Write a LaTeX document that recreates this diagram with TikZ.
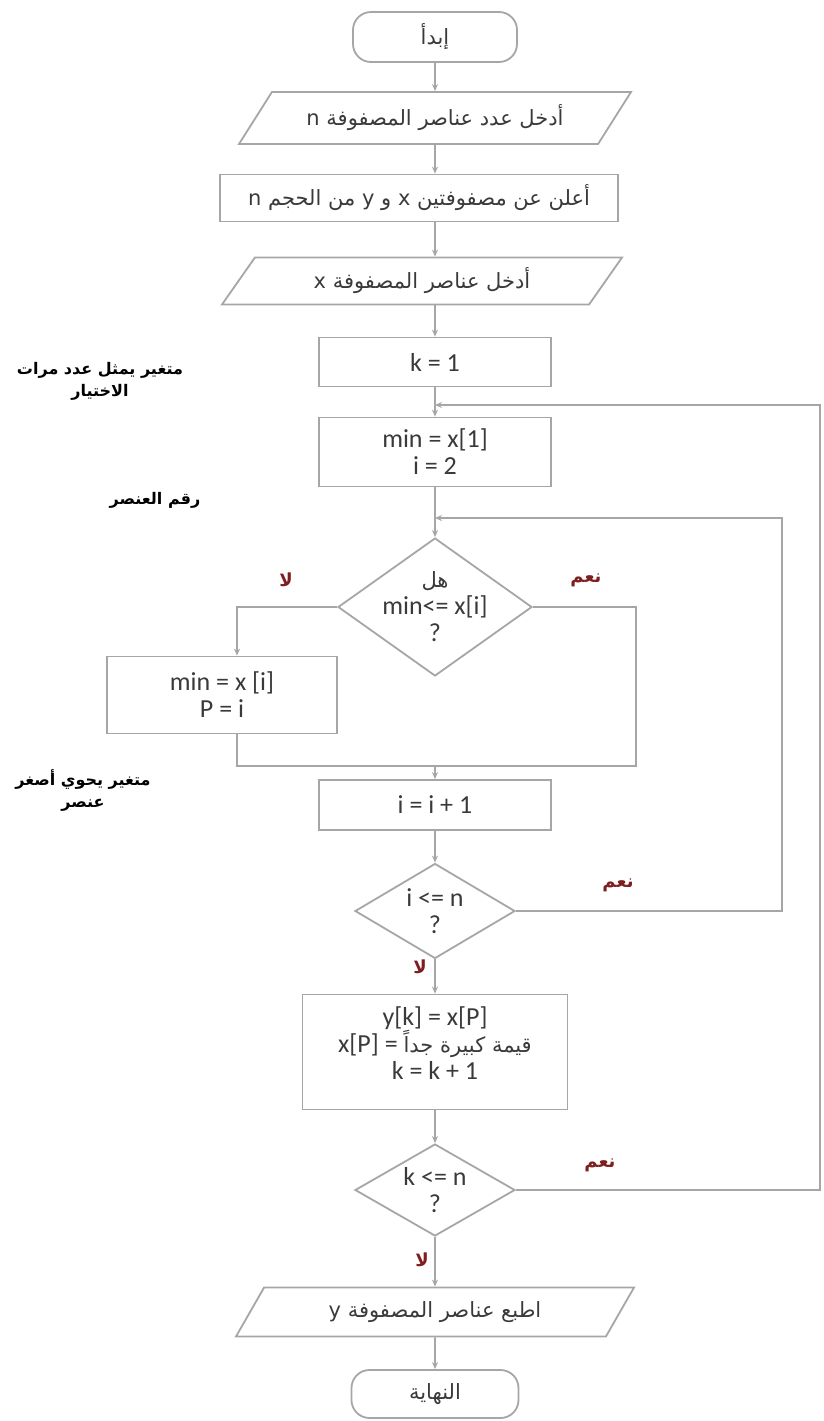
\documentclass[tikz,border=0pt]{standalone}
\usepackage{fontspec}
\setmainfont{Carlito}
\newfontfamily\arabicfont[Script=Arabic]{DejaVu Sans}
\TeXXeTstate=1
\usepackage{tikz}
\usetikzlibrary{arrows.meta,shapes.geometric}
\definecolor{linegray}{HTML}{A6A6A6}
\definecolor{textgray}{HTML}{3A3A3A}
\definecolor{yesno}{HTML}{7E1E1E}
\tikzset{
  ar/.style={-{Stealth[length=3.5pt,width=3pt]},line width=0.9pt,linegray},
  ln/.style={line width=0.9pt,linegray},
  box/.style={draw=linegray,line width=0.9pt,align=center,text=textgray,inner sep=2pt,font=\fontsize{13}{13.5}\selectfont},
  artxt/.style={font=\arabicfont\fontsize{10.5}{13.5}\selectfont},
  term/.style={box,rounded corners=9pt},
  io/.style={box,trapezium,trapezium left angle=46,trapezium right angle=134,trapezium stretches body},
  test/.style={box,diamond,inner sep=-10pt},
  yn/.style={font=\arabicfont\bfseries\fontsize{9}{10}\selectfont,text=yesno},
  note/.style={font=\arabicfont\bfseries\fontsize{8}{11}\selectfont,text=black,align=center}
}

\begin{document}
\begin{tikzpicture}[x=0.5pt,y=-0.5pt]
\useasboundingbox (0,0) rectangle (824,1421);
% main column
\node[term,artxt,minimum width=82pt,minimum height=25pt] (start) at (435,37) {\beginR إبدأ\endR};
\node[io,artxt,minimum width=196pt,minimum height=26pt] (readn) at (435,118) {\beginR أدخل عدد عناصر المصفوفة n\endR};
\node[box,artxt,minimum width=199pt,minimum height=23.5pt] (decl) at (419,198) {\beginR أعلن عن مصفوفتين x و y من الحجم n\endR};
\node[io,artxt,minimum width=200pt,minimum height=23.5pt] (readx) at (422,281) {\beginR أدخل عناصر المصفوفة x\endR};
\node[box,minimum width=116pt,minimum height=24.5pt] (kinit) at (435,362) {k = 1};
\node[box,minimum width=116pt,minimum height=34.5pt] (mininit) at (435,452) {min = x[1]\\ i = 2};
\node[test,minimum width=97pt,minimum height=69pt] (test1) at (435,607) {{\arabicfont\fontsize{10.5}{13.5}\selectfont\beginR هل\endR}\\ min<= x[i]\\ ?};
\node[box,minimum width=115pt,minimum height=38.5pt] (setmin) at (222,695) {min = x [i]\\ P = i};
\node[box,minimum width=116pt,minimum height=25pt] (inc) at (435,805) {i = i + 1};
\node[test,minimum width=80pt,minimum height=47.5pt] (test2) at (435,911) {i <= n\\ ?};
\node[box,minimum width=132.5pt,minimum height=57.5pt] (swap) at (435,1052) {y[k] = x[P]\\ x[P] = {\arabicfont\fontsize{10.5}{13.5}\selectfont\beginR قيمة كبيرة جداً\endR}\\ k = k + 1\\[-4.5pt]};
\node[test,minimum width=80pt,minimum height=46pt] (test3) at (435,1190) {k <= n\\ ?};
\node[io,artxt,minimum width=199pt,minimum height=24.5pt] (printy) at (435,1312) {\beginR اطبع عناصر المصفوفة y\endR};
\node[term,artxt,minimum width=83.5pt,minimum height=24pt] (stop) at (435,1394) {\beginR النهاية\endR};

% side notes
\node[note] (noteK) at (100,381) {\beginR متغير يمثل عدد مرات\endR\\ \beginR الاختيار\endR};
\node[note] (noteP) at (155,500) {\beginR رقم العنصر\endR};
\node[note] (noteMin) at (83,790) {\beginR متغير يحوي أصغر\endR\\ \beginR عنصر\endR};

% helper points for the loops
\coordinate (back1) at (435,405);
\coordinate (back2) at (435,518);
\coordinate (join) at (435,766);
\coordinate (lx) at (237,0);
\coordinate (rx) at (636,0);
\coordinate (r2) at (782,0);
\coordinate (r1) at (820,0);

% straight flow
\draw[ar] (start) -- (readn);
\draw[ar] (readn) -- (readn |- decl.north);
\draw[ar] (readn |- decl.south) -- (readn |- readx.north);
\draw[ar] (readn |- readx.south) -- (kinit);
\draw[ar] (kinit) -- (mininit);
\draw[ar] (mininit) -- (test1);
\draw[ar] (test1.west) -| (setmin.north -| lx);
\draw[ln] (test1.east) -| (rx |- join) -- (join);
\draw[ln] (setmin.south -| lx) |- (join);
\draw[ar] (join) -- (inc);
\draw[ar] (inc) -- (test2);
\draw[ar] (test2) -- (swap);
\draw[ar] (swap) -- (test3);
\draw[ar] (test3) -- (printy);
\draw[ar] (printy) -- (stop);

% loops back
\draw[ar] (test2.east) -- (test2.east -| r2) |- (back2);
\draw[ar] (test3.east) -- (test3.east -| r1) |- (back1);

% yes / no
\node[yn] (no1) at (286,580) {\beginR لا\endR};
\node[yn] (yes1) at (586,580) {\beginR نعم\endR};
\node[yn] (yes2) at (618,885) {\beginR نعم\endR};
\node[yn] (no2) at (420,967) {\beginR لا\endR};
\node[yn] (yes3) at (600,1165) {\beginR نعم\endR};
\node[yn] (no3) at (422,1260) {\beginR لا\endR};
\end{tikzpicture}
\end{document}
